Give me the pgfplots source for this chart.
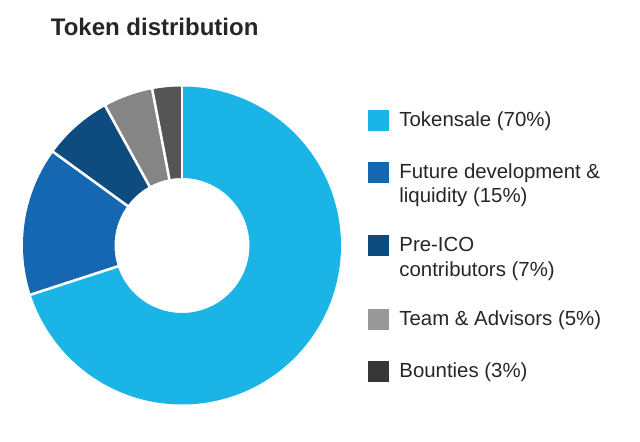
\documentclass[border=0pt]{standalone}
\usepackage{pgfplots}
\pgfplotsset{compat=1.18}
\usepackage{pgfplotstable}
\usepackage{fontspec}
\setmainfont{Liberation Sans}
\definecolor{cTok}{HTML}{1AB4E6}
\definecolor{cFut}{HTML}{1467B0}
\definecolor{cPre}{HTML}{0E4C80}
\definecolor{cTeam}{HTML}{858585}
\definecolor{cBou}{HTML}{555555}
\definecolor{lTeam}{HTML}{999797}
\definecolor{lBou}{HTML}{363636}
\definecolor{txt}{HTML}{262626}

\pgfplotstableread{
share
70
15
7
5
3
}\shares

\begin{document}
\begin{tikzpicture}
\pgfplotstablegetelem{0}{share}\of\shares \let\sA\pgfplotsretval
\pgfplotstablegetelem{1}{share}\of\shares \let\sB\pgfplotsretval
\pgfplotstablegetelem{2}{share}\of\shares \let\sC\pgfplotsretval
\pgfplotstablegetelem{3}{share}\of\shares \let\sD\pgfplotsretval
\pgfplotstablegetelem{4}{share}\of\shares \let\sE\pgfplotsretval
\pgfmathsetmacro{\aA}{90}
\pgfmathsetmacro{\aB}{\aA-3.6*\sA}
\pgfmathsetmacro{\aC}{\aB-3.6*\sB}
\pgfmathsetmacro{\aD}{\aC-3.6*\sC}
\pgfmathsetmacro{\aE}{\aD-3.6*\sD}
\pgfmathsetmacro{\aF}{\aE-3.6*\sE}
\begin{axis}[
  x=1bp, y=1bp, scale only axis,
  xmin=-182, xmax=458, ymin=-196.5, ymax=245.5,
  hide axis, clip=false,
  at={(0,0)}, anchor=south west,
  legend style={at={(axis cs:186,135.5)}, anchor=north west,
    draw=none, fill=none, inner sep=0pt, outer sep=0pt,
    font=\fontsize{20.4bp}{24.4bp}\selectfont, text=txt,
    row sep=31.5bp, column sep=11bp,
    cells={anchor=base west}, nodes={inner sep=0pt}},
]
% donut slices
\addplot[forget plot, draw=cTok, line width=91.5bp, domain=\aB:\aA, samples=160] ({113.25*cos(x)},{113.25*sin(x)});
\addplot[forget plot, draw=cFut, line width=91.5bp, domain=\aC:\aB, samples=40] ({113.25*cos(x)},{113.25*sin(x)});
\addplot[forget plot, draw=cPre, line width=91.5bp, domain=\aD:\aC, samples=20] ({113.25*cos(x)},{113.25*sin(x)});
\addplot[forget plot, draw=cTeam, line width=91.5bp, domain=\aE:\aD, samples=16] ({113.25*cos(x)},{113.25*sin(x)});
\addplot[forget plot, draw=cBou, line width=91.5bp, domain=\aF:\aE, samples=10] ({113.25*cos(x)},{113.25*sin(x)});
% white separators
\addplot[forget plot, draw=white, line width=2.6bp, domain=64:162, samples=2] ({x*cos(\aA)},{x*sin(\aA)});
\addplot[forget plot, draw=white, line width=2.6bp, domain=64:162, samples=2] ({x*cos(\aB)},{x*sin(\aB)});
\addplot[forget plot, draw=white, line width=2.6bp, domain=64:162, samples=2] ({x*cos(\aC)},{x*sin(\aC)});
\addplot[forget plot, draw=white, line width=2.6bp, domain=64:162, samples=2] ({x*cos(\aD)},{x*sin(\aD)});
\addplot[forget plot, draw=white, line width=2.6bp, domain=64:162, samples=2] ({x*cos(\aE)},{x*sin(\aE)});
% legend
\addlegendimage{legend image code/.code={\fill[cTok] (0bp,-4bp) rectangle (20bp,16bp);}}
\addlegendentry{Tokensale (70\%)}
\addlegendimage{legend image code/.code={\fill[cFut] (0bp,20.4bp) rectangle (20bp,40.4bp);}}
\addlegendentry{\parbox[b]{220bp}{Future development \&\\liquidity (15\%)}}
\addlegendimage{legend image code/.code={\fill[cPre] (0bp,20.4bp) rectangle (20bp,40.4bp);}}
\addlegendentry{\parbox[b]{220bp}{Pre-ICO\\contributors (7\%)}}
\addlegendimage{legend image code/.code={\fill[lTeam] (0bp,-4bp) rectangle (20bp,16bp);}}
\addlegendentry{Team \& Advisors (5\%)}
\addlegendimage{legend image code/.code={\fill[lBou] (0bp,-4bp) rectangle (20bp,16bp);}}
\addlegendentry{Bounties (3\%)}
% title
\node[anchor=base west, inner sep=0pt, text=txt, font=\fontsize{24bp}{28bp}\selectfont\bfseries] at (axis cs:-131.3,209.5) {Token distribution};
\end{axis}
\pgfresetboundingbox
\useasboundingbox (0,0) rectangle (640bp,442bp);
\end{tikzpicture}
\end{document}
